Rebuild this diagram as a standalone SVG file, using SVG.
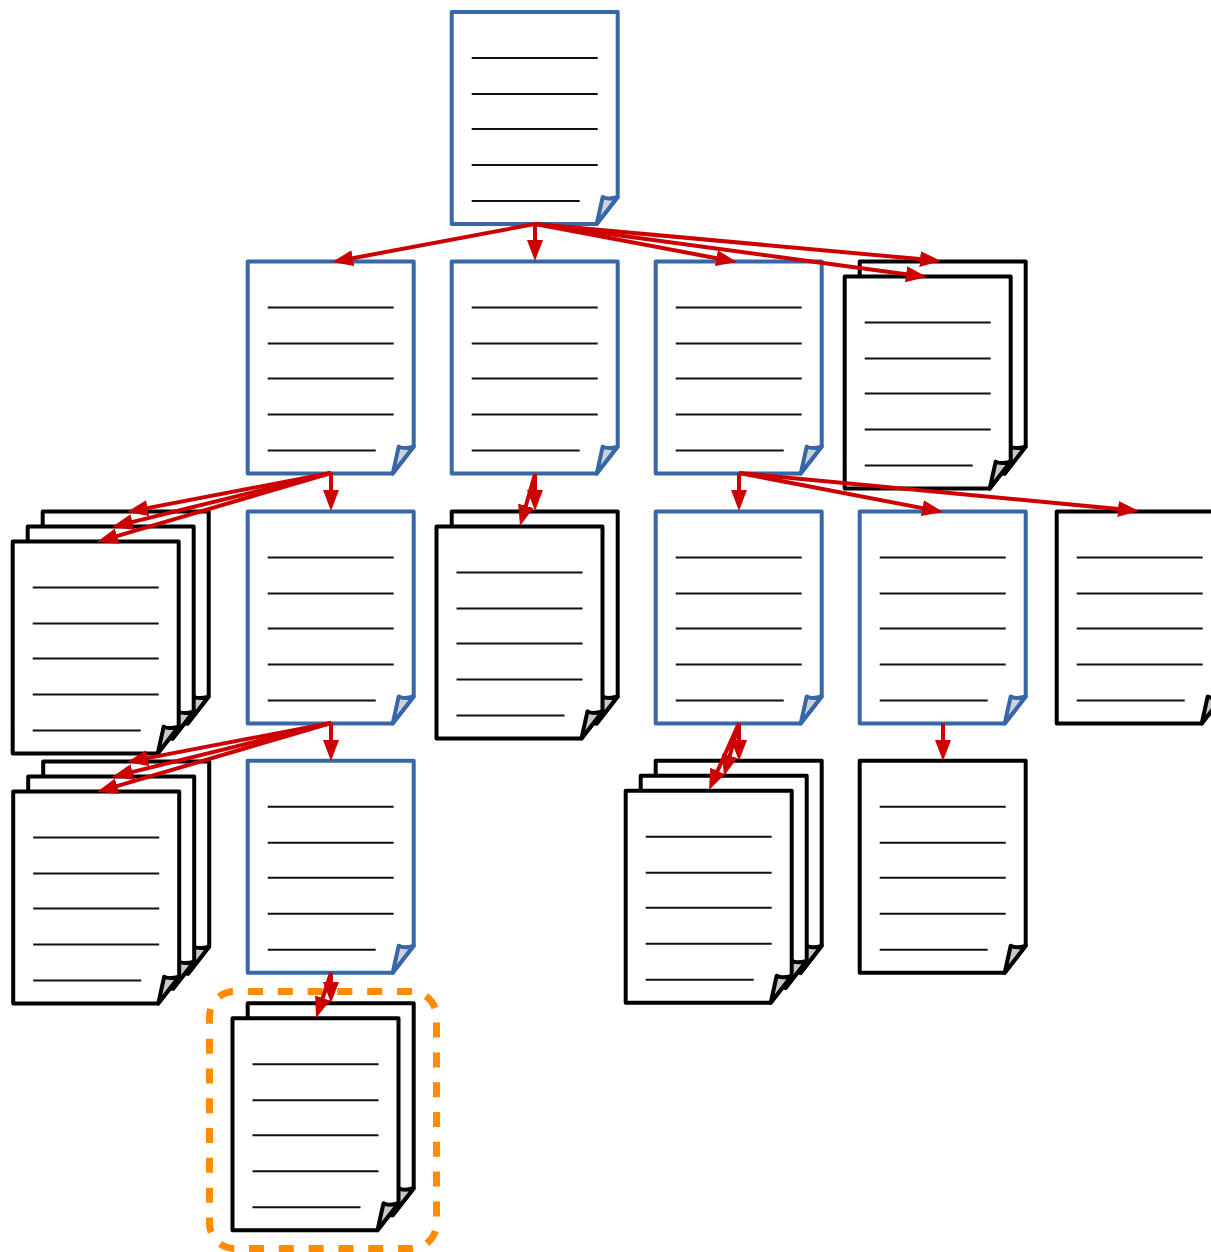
<svg xmlns="http://www.w3.org/2000/svg" width="1211" height="1252" viewBox="0 0 1211 1252">
<style>
.sheet{fill:#fff;stroke-width:4;stroke-linejoin:round}
.fold{stroke-width:4;stroke-linejoin:round}
.blue .sheet,.blue .fold{stroke:#3767a8}
.blue .fold{fill:#cdd3da}
.black .sheet,.black .fold{stroke:#000}
.black .fold{fill:#c8c8c8}
.rule{stroke:#111;stroke-width:2;fill:none}
.conn{stroke:#cc0000;stroke-width:4;fill:none;marker-end:url(#head)}
.focus{fill:none;stroke:#ff8c00;stroke-width:7;stroke-dasharray:15 14.8;stroke-dashoffset:-13.5}
</style>
<defs>
<marker id="head" markerUnits="userSpaceOnUse" markerWidth="21" markerHeight="18" refX="11" refY="9" orient="auto"><path d="M0,1 L21,9 L0,17 Z" fill="#cc0000"/></marker>
<g id="rules"><path class="rule" d="M20,46H146M20,82H146M20,117H146M20,153H146M20,189H128"/></g>
<g id="bp" class="blue"><path class="sheet" d="M0,0H166V185L145,212H0Z"/><path class="fold" d="M145,212L151,185Q156,188 166,185Z"/><use href="#rules"/></g>
<g id="kp" class="black"><path class="sheet" d="M0,0H166V185L145,212H0Z"/><path class="fold" d="M145,212L151,185Q156,188 166,185Z"/><use href="#rules"/></g>
</defs>
<g id="nodes">
<g id="n-root"><use href="#bp" x="451.700" y="12"/></g>
<g id="n-2a"><use href="#bp" x="247.700" y="261.600"/></g>
<g id="n-2b"><use href="#bp" x="451.700" y="261.600"/></g>
<g id="n-2c"><use href="#bp" x="655.700" y="261.600"/></g>
<g id="n-2d"><use href="#kp" x="859.700" y="261.600"/><use href="#kp" x="844.700" y="276.600"/></g>
<g id="n-3a"><use href="#kp" x="42.700" y="511.600"/><use href="#kp" x="27.700" y="526.600"/><use href="#kp" x="12.700" y="541.600"/></g>
<g id="n-3b"><use href="#bp" x="247.700" y="511.500"/></g>
<g id="n-3c"><use href="#kp" x="451.700" y="511.500"/><use href="#kp" x="436.500" y="526.400"/></g>
<g id="n-3d"><use href="#bp" x="655.700" y="511.500"/></g>
<g id="n-3e"><use href="#bp" x="859.700" y="511.500"/></g>
<g id="n-3f"><use href="#kp" x="1056.700" y="511.500"/></g>
<g id="n-4a"><use href="#kp" x="43.200" y="761.600"/><use href="#kp" x="28.200" y="776.600"/><use href="#kp" x="13.200" y="791.600"/></g>
<g id="n-4b"><use href="#bp" x="247.700" y="760.800"/></g>
<g id="n-4c"><use href="#kp" x="655.700" y="760.800"/><use href="#kp" x="640.700" y="775.800"/><use href="#kp" x="625.700" y="790.800"/></g>
<g id="n-4d"><use href="#kp" x="859.700" y="760.800"/></g>
<g id="n-5a"><use href="#kp" x="247.700" y="1003.200"/><use href="#kp" x="232.500" y="1018.200"/></g>
</g>
<rect id="highlight" class="focus" x="209.500" y="991.500" width="227" height="257" rx="25" ry="25"/>
<g id="connectors">
<path class="conn" d="M535,224L342,260.200"/>
<path class="conn" d="M535,224V251"/>
<path class="conn" d="M535,224L727.200,260.200"/>
<path class="conn" d="M535,224L917,275.700"/>
<path class="conn" d="M535,224L931,260.100"/>
<path class="conn" d="M331,473L136.800,510.100"/>
<path class="conn" d="M331,473L121.700,524.600"/>
<path class="conn" d="M331,473L106.600,539.200"/>
<path class="conn" d="M331,473V501"/>
<path class="conn" d="M535,474V501"/>
<path class="conn" d="M535,474L522.800,516.400"/>
<path class="conn" d="M739,473V501"/>
<path class="conn" d="M739,473L933.200,510.100"/>
<path class="conn" d="M739,473L1129,510.100"/>
<path class="conn" d="M331,723L136.800,760.100"/>
<path class="conn" d="M331,723L121.700,774.600"/>
<path class="conn" d="M331,723L106.600,789.200"/>
<path class="conn" d="M331,723V751"/>
<path class="conn" d="M739,723V751"/>
<path class="conn" d="M739,723L726.700,766.400"/>
<path class="conn" d="M739,723L713.100,780.900"/>
<path class="conn" d="M943,723V751"/>
<path class="conn" d="M331,973V993"/>
<path class="conn" d="M331,973L319.200,1008.500"/>
</g>
</svg>
